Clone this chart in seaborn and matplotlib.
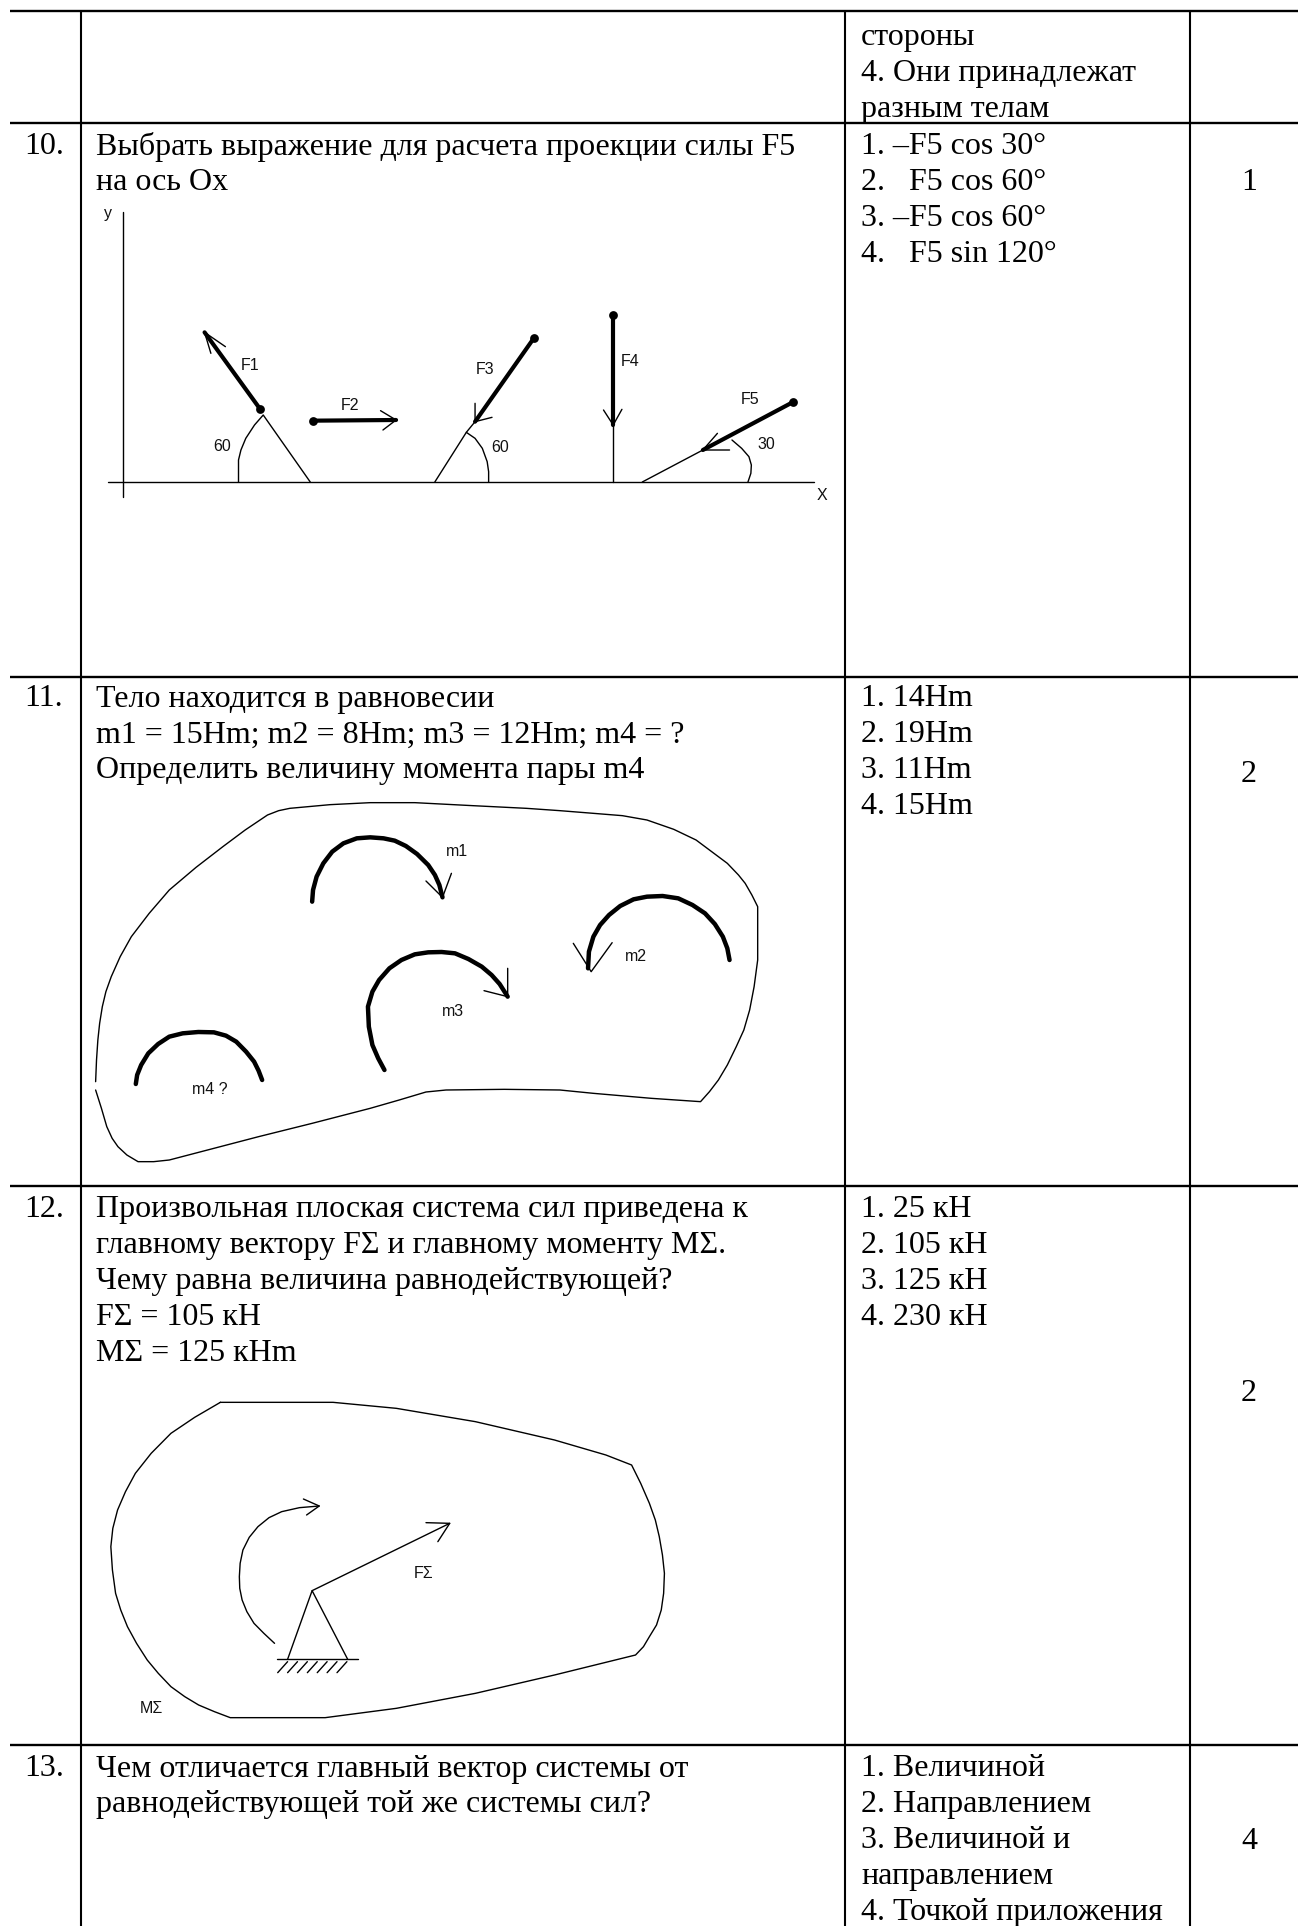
import matplotlib
matplotlib.use("Agg")
import matplotlib.pyplot as plt
import seaborn as sns

# table grid, in page pixels
row_lines = [11, 123, 677, 1186.5, 1745.5]
col_lines = [81, 845, 1190]

# text rows (baselines)
num_labels = ["10.", "11.", "12.", "13."]
num_y = [154.5, 706.5, 1217, 1776.5]
answer_keys = ["1", "2", "2", "4"]
key_y = [190.5, 782, 1401, 1849]

question_lines = [
    ["Выбрать выражение для расчета проекции силы F5", "на ось Ox"],
    ["Тело находится в равновесии", "m1 = 15Hm; m2 = 8Hm; m3 = 12Hm; m4 = ?",
     "Определить величину момента пары m4"],
    ["Произвольная плоская система сил приведена к", "главному вектору FΣ и главному моменту MΣ.",
     "Чему равна величина равнодействующей?", "FΣ = 105 кН", "MΣ = 125 кНm"],
    ["Чем отличается главный вектор системы от", "равнодействующей той же системы сил?"],
]
option_lines = [
    ["1. –F5 cos 30°", "2.   F5 cos 60°", "3. –F5 cos 60°", "4.   F5 sin 120°"],
    ["1. 14Hm", "2. 19Hm", "3. 11Hm", "4. 15Hm"],
    ["1. 25 кН", "2. 105 кН", "3. 125 кН", "4. 230 кН"],
    ["1. Величиной", "2. Направлением", "3. Величиной и", "направлением", "4. Точкой приложения"],
]
top_lines = ["стороны", "4. Они принадлежат", "разным телам"]
top_y = 45.5

# figure 1: forces on the Ox axis (crop coordinates)
fig1_thin = [
    [(88, 125), (88, 980)],
    [(58, 936), (1515, 936)],
    [(327, 936), (327, 900), (327, 870), (332, 840), (342, 805), (360, 765), (378, 735), (475, 936)],
    [(732, 936), (797, 787), (815, 805), (830, 835), (840, 875), (843, 905), (843, 936)],
    [(797, 787), (815, 755)],
    [(1100, 765), (1100, 936)],
    [(1160, 936), (1285, 840)],
    [(1345, 810), (1365, 835), (1380, 860), (1385, 885), (1384, 910), (1378, 936)],
    [(300, 530), (257, 487), (270, 550)],
    [(620, 722), (652, 750), (625, 780)],
    [(815, 700), (815, 755), (850, 742)],
    [(1080, 720), (1100, 765), (1118, 718)],
    [(1315, 790), (1285, 840), (1340, 840)],
]
fig1_thick = [
    [(372, 718), (257, 487)],
    [(480, 752), (652, 750)],
    [(937, 503), (815, 755)],
    [(1100, 435), (1100, 765)],
    [(1470, 697), (1285, 840)],
]
fig1_dots = [(372, 718), (480, 752), (937, 503), (1100, 435), (1470, 697)]
fig1_labels = [("y", 58, 130), ("X", 1530, 978), ("F1", 350, 585), ("F2", 558, 708), ("F3", 835, 600),
               ("F4", 1135, 575), ("F5", 1383, 690), ("60", 294, 830), ("60", 867, 832), ("30", 1415, 823)]

# figure 2: body with couples
fig2_thin = [
    [(35, 905), (37, 840), (40, 780), (44, 730), (50, 680), (58, 635), (70, 590), (90, 530), (115, 470), (155, 400),
     (200, 330), (260, 262), (320, 200), (370, 150), (420, 105), (445, 92), (470, 85), (560, 74), (650, 68), (750, 68),
     (880, 77), (1000, 85), (1075, 92), (1150, 100), (1215, 107), (1270, 120), (1330, 148), (1380, 180), (1420, 220),
     (1450, 250), (1475, 285), (1490, 310), (1505, 345), (1518, 380), (1518, 460), (1518, 540), (1510, 620), (1500, 690),
     (1487, 750), (1470, 800), (1450, 855), (1430, 900), (1410, 935), (1390, 965), (1280, 955), (1150, 940), (1075, 930),
     (950, 928), (820, 930), (775, 936), (715, 960), (650, 985), (520, 1030), (400, 1070), (300, 1105), (200, 1140),
     (165, 1145), (130, 1145), (105, 1125), (85, 1100), (72, 1075), (60, 1040), (48, 985), (35, 930)],
    [(775, 303), (812, 352), (832, 280)],
    [(1105, 490), (1145, 575), (1192, 488)],
    [(905, 632), (958, 650), (958, 565)],
]
fig2_thick = [
    [(520, 365), (522, 330), (530, 290), (545, 250), (565, 215), (590, 190), (620, 175), (650, 172), (680, 175),
     (705, 182), (730, 198), (755, 222), (780, 255), (795, 285), (805, 315), (812, 352)],
    [(1455, 540), (1450, 505), (1440, 470), (1422, 432), (1400, 400), (1372, 375), (1340, 355), (1305, 348),
     (1270, 350), (1240, 358), (1210, 378), (1185, 405), (1165, 435), (1150, 470), (1140, 515), (1138, 565)],
    [(682, 870), (668, 835), (655, 795), (647, 740), (645, 680), (655, 635), (670, 600), (693, 565), (720, 540),
     (750, 523), (780, 517), (810, 516), (840, 520), (870, 537), (900, 560), (922, 585), (940, 612), (958, 650)],
    [(125, 912), (128, 885), (137, 855), (153, 820), (175, 792), (200, 770), (230, 760), (265, 756), (300, 757),
     (327, 767), (350, 785), (372, 815), (390, 845), (400, 872), (408, 900)],
]
fig2_labels = [("m1", 845, 215), ("m2", 1245, 530), ("m3", 835, 695), ("m4 ?", 290, 930)]

# figure 3: main vector and main moment
fig3_thin = [
    [(355, 67), (500, 67), (640, 67), (800, 85), (1000, 125), (1200, 180), (1330, 225), (1395, 255), (1418, 310),
     (1440, 370), (1455, 420), (1465, 470), (1473, 525), (1478, 580), (1476, 640), (1470, 690), (1458, 735), (1440, 770),
     (1425, 800), (1405, 825), (1200, 885), (1000, 940), (800, 985), (620, 1013), (380, 1013), (340, 995), (300, 975),
     (265, 950), (230, 920), (198, 880), (170, 840), (143, 790), (120, 740), (103, 690), (90, 640), (82, 570), (78, 500),
     (83, 445), (95, 390), (115, 335), (140, 280), (180, 220), (230, 160), (290, 112), (355, 67)],
    [(492, 790), (465, 760), (440, 730), (422, 695), (410, 660), (404, 625), (403, 590), (405, 550), (412, 510),
     (428, 472), (450, 440), (478, 413), (510, 395), (555, 383), (605, 378)],
    [(565, 357), (605, 378), (573, 405)],
    [(587, 632), (935, 430)],
    [(875, 428), (935, 430), (905, 485)],
    [(525, 838), (587, 632), (677, 838)],
    [(498, 838), (702, 838)],
    [(525, 845), (500, 878)], [(550, 845), (525, 878)], [(575, 845), (550, 878)], [(600, 845), (575, 878)],
    [(625, 845), (600, 878)], [(650, 845), (625, 878)], [(675, 845), (650, 878)],
]
fig3_labels = [("FΣ", 868, 580), ("MΣ", 180, 985)]

sns.set_theme(style="white")
plt.rcParams["font.family"] = ["Liberation Serif", "DejaVu Serif"]

fig = plt.figure(figsize=(12.98, 19.26), dpi=100)
ax = fig.add_axes([0, 0, 1, 1])


def draw_lines(groups, x0, sx, y0, lw):
    for pts in groups:
        xs = [x0 + p[0] / sx for p in pts]
        ys = [y0 + p[1] / 3 for p in pts]
        sns.lineplot(x=xs, y=ys, sort=False, estimator=None, color="black", linewidth=lw, ax=ax, legend=False)


def draw_labels(labels, x0, sx, y0):
    for txt, zx, zy in labels:
        ax.text(x0 + zx / sx, y0 + zy / 3, txt, family="Liberation Sans", fontsize=11.5, color="#111111",
                ha="center", va="center")


# first figure
draw_lines(fig1_thin, 80, 2.063, 170, 1.0)
draw_lines(fig1_thick, 80, 2.063, 170, 3.0)
sns.scatterplot(x=[80 + p[0] / 2.063 for p in fig1_dots], y=[170 + p[1] / 3 for p in fig1_dots],
                color="black", s=40, linewidth=0, ax=ax, legend=False)
draw_labels(fig1_labels, 80, 2.063, 170)

# second figure
draw_lines(fig2_thin, 80, 2.24, 780, 1.0)
draw_lines(fig2_thick, 80, 2.24, 780, 3.2)
draw_labels(fig2_labels, 80, 2.24, 780)

# third figure
draw_lines(fig3_thin, 80, 2.529, 1380, 1.0)
draw_labels(fig3_labels, 80, 2.529, 1380)

# grid
ax.hlines(row_lines, 10, 1298, color="black", linewidth=1.7)
ax.vlines(col_lines, row_lines[0], 1926, color="black", linewidth=1.5)

# text
line_step = 35.9
text_size = 23
opt_x = 861
for i, line in enumerate(top_lines):
    ax.text(opt_x, top_y + i * line_step, line, fontsize=text_size, color="black", va="baseline")
for n in range(4):
    ax.text(24, num_y[n], num_labels[n], fontsize=text_size, color="black", va="baseline")
    ax.text(1249, key_y[n], answer_keys[n], fontsize=text_size, color="black", va="baseline", ha="center")
    for i, line in enumerate(question_lines[n]):
        ax.text(96, num_y[n] + i * line_step, line, fontsize=text_size, color="black", va="baseline")
    for i, line in enumerate(option_lines[n]):
        ax.text(opt_x, num_y[n] + i * line_step, line, fontsize=text_size, color="black", va="baseline")

ax.set_xlim(0, 1298)
ax.set_ylim(1926, 0)
ax.set_axis_off()

plt.savefig("out.png", dpi=100)
